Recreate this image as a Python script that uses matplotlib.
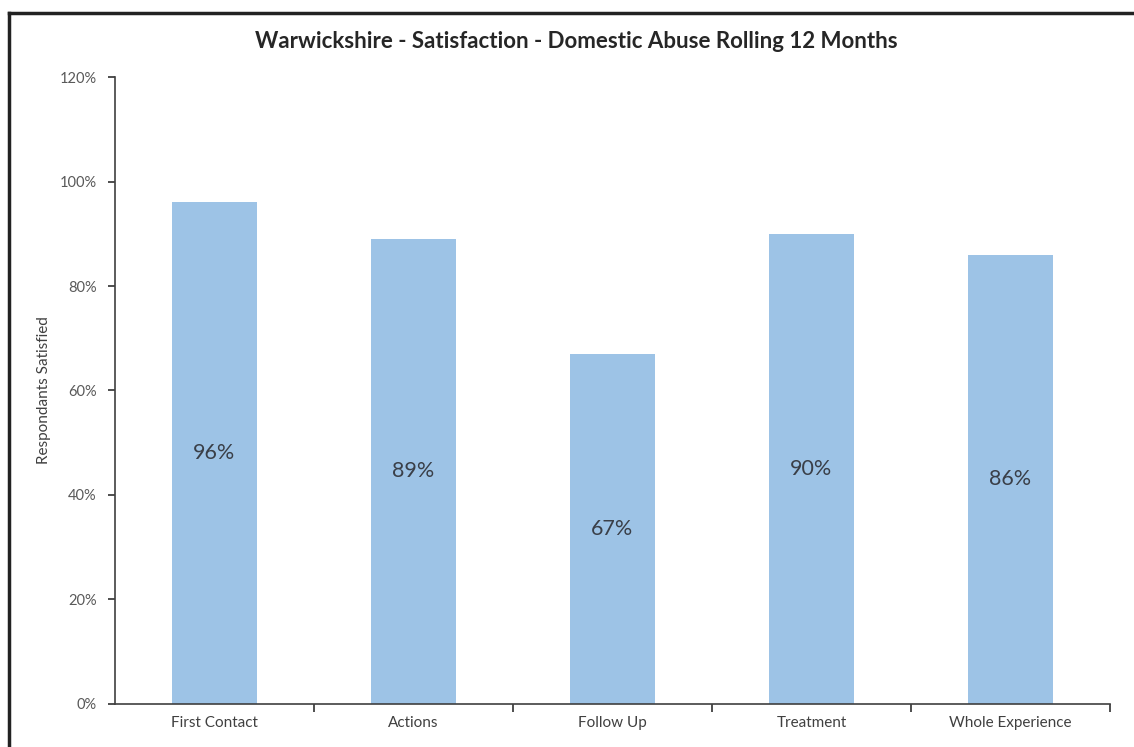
import matplotlib.pyplot as plt
from matplotlib.ticker import PercentFormatter, FixedLocator
from matplotlib.lines import Line2D

plt.rcParams['font.family'] = ['Lato', 'DejaVu Sans']

categories = ['First Contact', 'Actions', 'Follow Up', 'Treatment', 'Whole Experience']
satisfied = [0.96, 0.89, 0.67, 0.90, 0.86]
labels = ['96%', '89%', '67%', '90%', '86%']

fig = plt.figure(figsize=(11.34, 7.47), dpi=100)
ax = fig.add_axes([0.1014, 0.0576, 0.8774, 0.8393])

x = list(range(len(categories)))
ax.bar(x, satisfied, width=0.43, color='#9DC3E6', zorder=2)

for xi, v, lab in zip(x, satisfied, labels):
    ax.text(xi, v / 2, lab, ha='center', va='center', fontsize=15.5, color='#3a3f48')

ax.set_xlim(-0.5, len(categories) - 0.5)
ax.set_ylim(0, 1.2)
ax.set_yticks([0, 0.2, 0.4, 0.6, 0.8, 1.0, 1.2])
ax.yaxis.set_major_formatter(PercentFormatter(1.0, decimals=0))
ax.set_xticks(x)
ax.set_xticklabels(categories)
ax.xaxis.set_minor_locator(FixedLocator([i + 0.5 for i in range(len(categories))]))
ax.tick_params(axis='x', which='major', length=0, labelsize=11, labelcolor='#404040', pad=9)
ax.tick_params(axis='x', which='minor', length=6, width=1.3, color='#404040', direction='out')
ax.tick_params(axis='y', length=5, width=1.3, color='#404040', labelsize=10.5, labelcolor='#595959', pad=8)

for side in ['top', 'right']:
    ax.spines[side].set_visible(False)
for side in ['left', 'bottom']:
    ax.spines[side].set_color('#404040')
    ax.spines[side].set_linewidth(1.2)

ax.set_ylabel('Respondants Satisfied', fontsize=11, color='#404040', labelpad=6)
fig.text(0.508, 0.944, 'Warwickshire - Satisfaction - Domestic Abuse Rolling 12 Months',
         ha='center', va='center', fontsize=16, fontweight='bold', color='#262626')

# outer chart frame (left and top edges visible)
fig.add_artist(Line2D([9 / 1134, 9 / 1134], [0, 1 - 13 / 747], color='#222222', lw=2.5))
fig.add_artist(Line2D([9 / 1134, 1], [1 - 13 / 747, 1 - 13 / 747], color='#222222', lw=2.5))

fig.savefig('out.png', dpi=100)
